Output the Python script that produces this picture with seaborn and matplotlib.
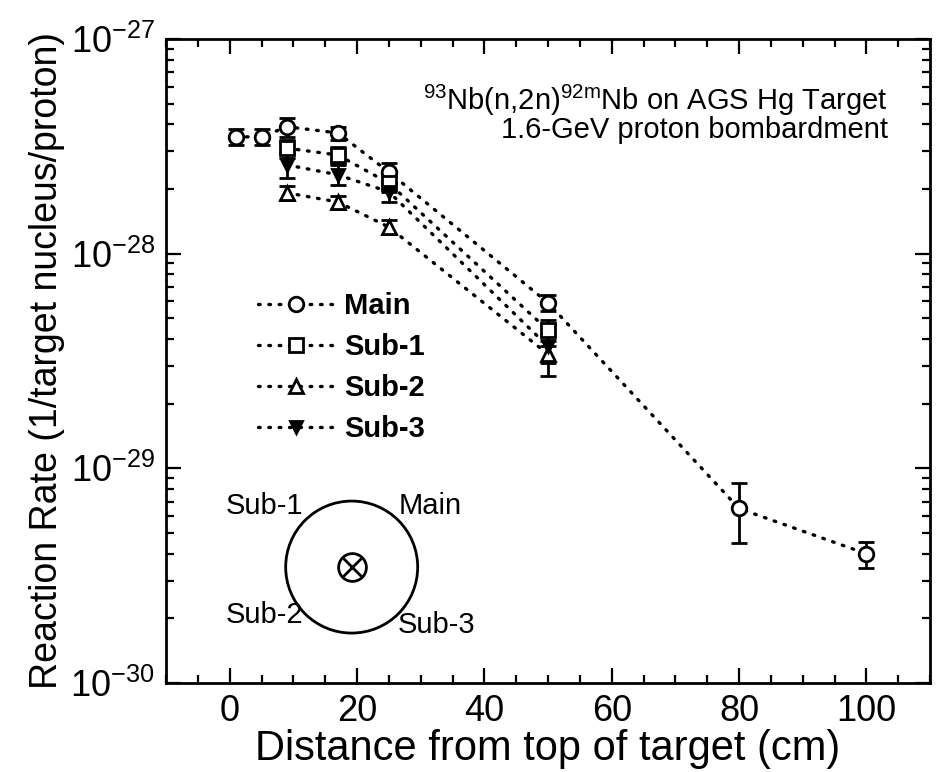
import matplotlib
matplotlib.use('Agg')
import matplotlib.pyplot as plt
from matplotlib.patches import Ellipse
from matplotlib.ticker import FixedLocator, LogLocator, FuncFormatter, MultipleLocator
import numpy as np
import pandas as pd
import seaborn as sns

# distances (cm) and reaction rates (1/target nucleus/proton)
main_x = [1, 5, 9, 17, 25, 50, 80, 100]
main_y = [3.5e-28, 3.5e-28, 3.9e-28, 3.65e-28, 2.4e-28, 5.9e-29, 6.5e-30, 4.0e-30]
main_err = [0.3e-28, 0.3e-28, 0.4e-28, 0.25e-28, 0.25e-28, 0.5e-29, 2.0e-30, 0.55e-30]

sub_x = [9, 17, 25, 50]
sub1_y = [3.1e-28, 2.88e-28, 2.13e-28, 4.4e-29]
sub1_err = [0.3e-28, 0.25e-28, 0.2e-28, 0.5e-29]
sub2_y = [1.92e-28, 1.74e-28, 1.33e-28, 3.4e-29]
sub2_err = [0.15e-28, 0.12e-28, 0.1e-28, 0.3e-29]
sub3_y = [2.59e-28, 2.33e-28, 1.94e-28, 3.7e-29]
sub3_err = [0.35e-28, 0.25e-28, 0.2e-28, 1.0e-29]

y_ticks = [1e-30, 1e-29, 1e-28, 1e-27]

series = ['Main', 'Sub-1', 'Sub-2', 'Sub-3']
markers = {'Main': 'o', 'Sub-1': 's', 'Sub-2': '^', 'Sub-3': 'v'}
msizes = {'Main': 10.5, 'Sub-1': 10.5, 'Sub-2': 10, 'Sub-3': 8}
mfill = {'Main': 'white', 'Sub-1': 'white', 'Sub-2': 'white', 'Sub-3': 'black'}

frames = [
    pd.DataFrame({'x': main_x, 'y': main_y, 'err': main_err, 'pos': 'Main'}),
    pd.DataFrame({'x': sub_x, 'y': sub1_y, 'err': sub1_err, 'pos': 'Sub-1'}),
    pd.DataFrame({'x': sub_x, 'y': sub2_y, 'err': sub2_err, 'pos': 'Sub-2'}),
    pd.DataFrame({'x': sub_x, 'y': sub3_y, 'err': sub3_err, 'pos': 'Sub-3'}),
]
df = pd.concat(frames, ignore_index=True)

sns.set_theme(style='ticks')
plt.rcParams['font.family'] = ['Liberation Sans', 'DejaVu Sans']
plt.rcParams['mathtext.fontset'] = 'custom'
plt.rcParams['mathtext.rm'] = 'Liberation Sans'
plt.rcParams['mathtext.it'] = 'Liberation Sans'
plt.rcParams['mathtext.bf'] = 'Liberation Sans:bold'
plt.rcParams['text.color'] = 'black'
plt.rcParams['axes.labelcolor'] = 'black'

fig = plt.figure(figsize=(9.38, 7.72), dpi=100)
ax = fig.add_axes([0.177, 0.1153, 0.8145, 0.8342])

for name in series:
    d = df[df['pos'] == name]
    ax.errorbar(d['x'], d['y'], yerr=d['err'], fmt='none', ecolor='black',
                elinewidth=2, capsize=5.5, capthick=2, zorder=2)

for name in series:
    d = df[df['pos'] == name]
    sns.lineplot(data=d, x='x', y='y', ax=ax, color='black', lw=2.4,
                 linestyle=(0, (0.5, 2.6)), dash_capstyle='round',
                 marker=markers[name], markersize=msizes[name],
                 markerfacecolor=mfill[name], markeredgecolor='black',
                 markeredgewidth=2, label=name, zorder=3, legend=False)


def pow10(v, pos):
    n = int(round(np.log10(v)))
    return r'10$^{\mathregular{%d}}$' % n


ax.set_yscale('log')
ax.set_xlim(-10, 110)
ax.set_ylim(1e-30, 1e-27)
ax.xaxis.set_major_locator(MultipleLocator(20))
ax.xaxis.set_minor_locator(MultipleLocator(5))
ax.yaxis.set_major_locator(FixedLocator(y_ticks))
ax.yaxis.set_minor_locator(LogLocator(base=10, subs=np.arange(2, 10)))
ax.yaxis.set_major_formatter(FuncFormatter(pow10))
ax.tick_params(which='both', direction='in', top=True, right=True,
               width=1.6, colors='black', labelsize=26, pad=8)
ax.tick_params(which='major', length=11)
ax.tick_params(which='minor', length=6)
for s in ax.spines.values():
    s.set_linewidth(2)
    s.set_color('black')

ax.set_xlabel('Distance from top of target (cm)', fontsize=30, labelpad=0)
ax.set_ylabel('Reaction Rate (1/target nucleus/proton)', fontsize=27, labelpad=4)

ax.text(0.945, 0.905, r'$^{93}$Nb(n,2n)$^{92m}$Nb on AGS Hg Target',
        transform=ax.transAxes, ha='right', va='center', fontsize=21)
ax.text(0.945, 0.858, '1.6-GeV proton bombardment',
        transform=ax.transAxes, ha='right', va='center', fontsize=21)

leg = ax.legend(loc='upper left', bbox_to_anchor=(0.12, 0.607), frameon=False,
                borderpad=0, borderaxespad=0, handlelength=2.6,
                handletextpad=0.35, labelspacing=0.45,
                prop={'size': 21, 'weight': 'bold'})

# target cross-section sketch
ax.add_patch(Ellipse((0.243, 0.18), 132 / 764, 132 / 644, transform=ax.transAxes,
                     fill=False, edgecolor='black', lw=2))
ax.plot([0.243], [0.18], transform=ax.transAxes, marker='o', ms=20,
        mfc='none', mec='black', mew=2)
ax.plot([0.243], [0.18], transform=ax.transAxes, marker='x', ms=13,
        mec='black', mew=2)
ax.text(0.18, 0.275, 'Sub-1', transform=ax.transAxes, ha='right', va='center', fontsize=21)
ax.text(0.305, 0.275, 'Main', transform=ax.transAxes, ha='left', va='center', fontsize=21)
ax.text(0.18, 0.105, 'Sub-2', transform=ax.transAxes, ha='right', va='center', fontsize=21)
ax.text(0.303, 0.09, 'Sub-3', transform=ax.transAxes, ha='left', va='center', fontsize=21)

fig.savefig('out.png', dpi=100)
